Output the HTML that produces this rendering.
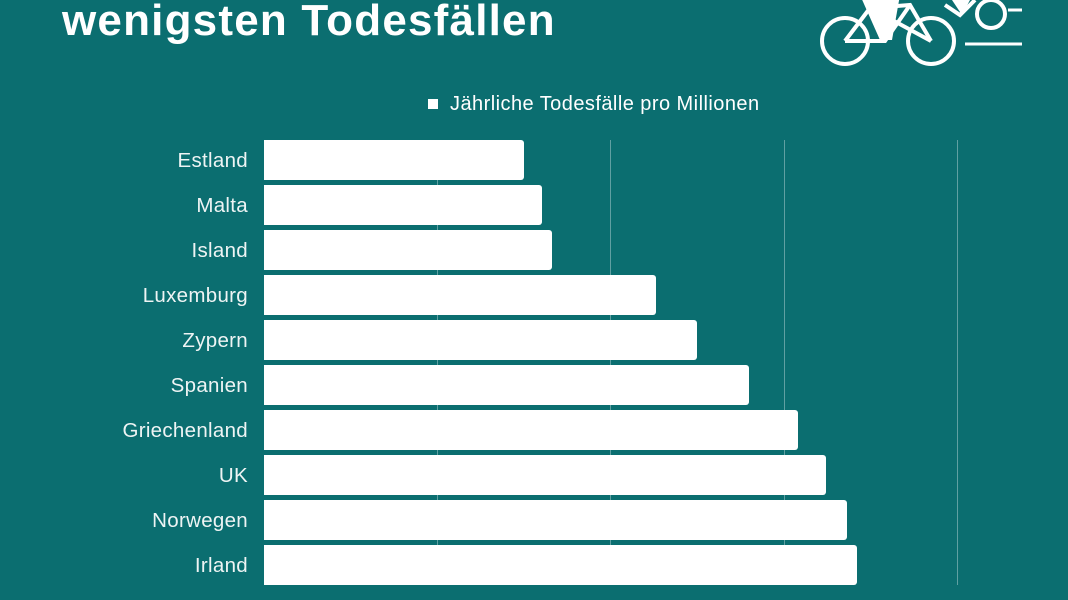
<!DOCTYPE html>
<html><head><meta charset="utf-8"><style>
html,body{margin:0;padding:0;}
body{width:1068px;height:600px;background:#0b6e70;position:relative;overflow:hidden;font-family:"Liberation Sans",sans-serif;color:#fff;}
.title{position:absolute;left:62px;top:-4px;font-size:44px;font-weight:bold;letter-spacing:1.2px;}
.leg{position:absolute;left:428px;top:93px;font-size:20px;letter-spacing:0.45px;}
.leg span{display:inline-block;width:10px;height:10px;background:#fff;margin-right:12px;vertical-align:1px;}
.grid{position:absolute;top:140px;width:1px;height:445px;background:rgba(255,255,255,0.35);}
.bar{position:absolute;left:264px;height:40px;background:#fff;border-radius:0 3px 3px 0;}
.lab{position:absolute;right:820px;font-size:20.5px;height:40px;line-height:42px;text-align:right;color:#eef4f4;letter-spacing:0.3px;}
</style></head><body>
<div class="title">wenigsten Todesfällen</div>
<svg style="position:absolute;left:800px;top:0" width="268" height="80" viewBox="0 0 268 80" fill="none" stroke="#fff" stroke-width="4">
<circle cx="45" cy="41" r="23"/><circle cx="131" cy="41" r="23"/><circle cx="191" cy="14" r="14"/>
<path d="M45 41 L70 8 L131 41 M70 8 L110 5 L131 41 M45 41 L85 41 L110 5"/>
<path d="M145 5 L160 15 L175 0"/>
<path d="M165 44 H222 M208 10 H222" stroke-width="3"/>
<path d="M60 -5 L100 -5 L92 40 L80 40 Z" fill="#fff" stroke="none"/>
<path d="M152 0 L170 0 L162 15 Z" fill="#fff" stroke="none"/>
</svg>
<div class="leg"><span></span>Jährliche Todesfälle pro Millionen</div>
<div class="grid" style="left:437px"></div>
<div class="grid" style="left:610px"></div>
<div class="grid" style="left:784px"></div>
<div class="grid" style="left:957px"></div>
<div class="bar" style="top:140px;width:260px"></div><div class="lab" style="top:140px">Estland</div>
<div class="bar" style="top:185px;width:278px"></div><div class="lab" style="top:185px">Malta</div>
<div class="bar" style="top:230px;width:288px"></div><div class="lab" style="top:230px">Island</div>
<div class="bar" style="top:275px;width:392px"></div><div class="lab" style="top:275px">Luxemburg</div>
<div class="bar" style="top:320px;width:433px"></div><div class="lab" style="top:320px">Zypern</div>
<div class="bar" style="top:365px;width:485px"></div><div class="lab" style="top:365px">Spanien</div>
<div class="bar" style="top:410px;width:534px"></div><div class="lab" style="top:410px">Griechenland</div>
<div class="bar" style="top:455px;width:562px"></div><div class="lab" style="top:455px">UK</div>
<div class="bar" style="top:500px;width:583px"></div><div class="lab" style="top:500px">Norwegen</div>
<div class="bar" style="top:545px;width:593px"></div><div class="lab" style="top:545px">Irland</div>
</body></html>
